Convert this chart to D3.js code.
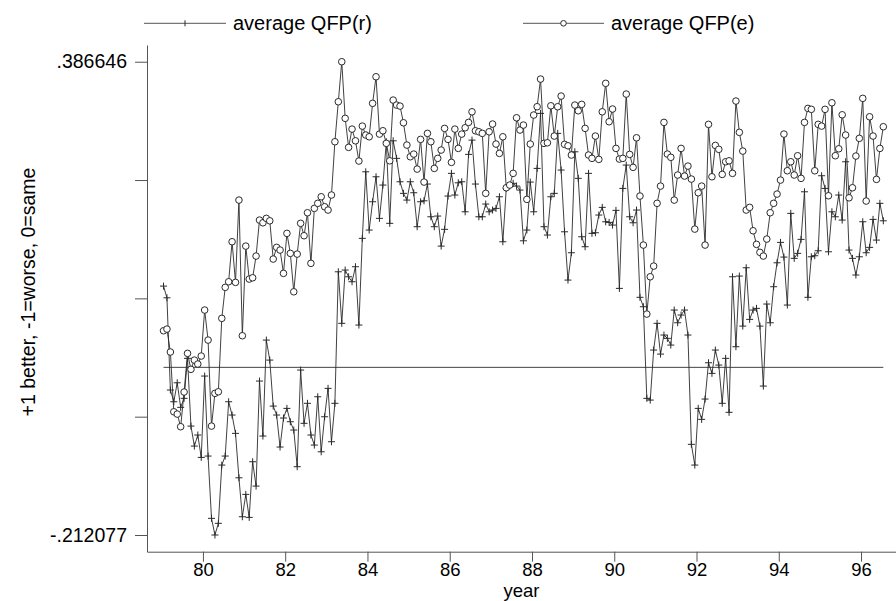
<!DOCTYPE html>
<html>
<head>
<meta charset="utf-8">
<script src="https://cdn.jsdelivr.net/npm/d3@7"></script>
<style>
  html, body { margin: 0; padding: 0; background: #fff; }
  svg { display: block; font-family: "Liberation Sans", Arial, Helvetica, sans-serif; }
</style>
</head>
<body>
<svg id="chart" width="896" height="601"></svg>
<script>
// monthly averages, first observation is Jan 1979
const firstYear = 79;

const qfpR = [
  0.1028, 0.0880, -0.0287, -0.0435, -0.0195, -0.0506, -0.0392, 0.0114, -0.0743, -0.0996,
  -0.0856, -0.1139, -0.0110, -0.1122, -0.1910, -0.212077, -0.1973, -0.1236, -0.1122, -0.0435,
  -0.0603, -0.0835, -0.1397, -0.1890, -0.1607, -0.1898, -0.1194, -0.1502, -0.0173, -0.0869,
  0.0345, 0.0092, -0.0490, -0.0603, -0.1008, -0.0641, -0.0519, -0.0688, -0.0793, -0.1257,
  -0.0034, -0.0708, -0.0455, -0.0856, -0.0983, -0.0372, -0.1068, -0.0625, -0.0266, -0.0941,
  -0.0455, 0.1209, 0.0557, 0.1231, 0.1146, 0.1083, 0.1273, 0.0535, 0.1632, 0.2474,
  0.1737, 0.2095, 0.2411, 0.1885, 0.2306, 0.2854, 0.1822, 0.2866, 0.2644, 0.2348,
  0.2201, 0.2116, 0.2348, 0.2209, 0.1779, 0.2095, 0.2107, 0.2319, 0.1905, 0.1779,
  0.1914, 0.1534, 0.1746, 0.2167, 0.2454, 0.2180, 0.2335, 0.2348, 0.1968, 0.2694,
  0.2875, 0.2319, 0.1905, 0.1905, 0.2066, 0.1968, 0.1990, 0.2011, 0.2158, 0.1589,
  0.2264, 0.2293, 0.2328, 0.2293, 0.2243, 0.1601, 0.1737, 0.2344, 0.1968, 0.2517,
  0.3213, 0.1779, 0.1674, 0.2158, 0.2201, 0.2960, 0.2496, 0.1715, 0.1104, 0.1450,
  0.2727, 0.2391, 0.1652, 0.1526, 0.2454, 0.1695, 0.1703, 0.1927, 0.2024, 0.1842,
  0.1834, 0.1800, 0.1986, 0.0999, 0.2264, 0.2559, 0.1905, 0.1829, 0.1990, 0.0886,
  0.0767, -0.0392, -0.0414, 0.0219, 0.0557, 0.0168, 0.0409, 0.0367, 0.0282, 0.0725,
  0.0564, 0.0662, 0.0725, 0.0409, -0.0974, -0.1236, -0.0519, -0.0658, -0.0401, 0.0058,
  -0.0076, 0.0219, 0.0029, -0.0455, 0.0114, -0.0569, 0.1146, 0.0261, 0.1155, 0.0522,
  0.1260, 0.0607, 0.0725, 0.0746, 0.0522, -0.0237, 0.0801, 0.0564, 0.1020, 0.1323,
  0.1581, 0.1395, 0.0788, 0.1948, 0.1379, 0.1442, 0.1619, 0.2221, 0.0886, 0.1399,
  0.1412, 0.1475, 0.2424, 0.2264, 0.1462, 0.1968, 0.1905, 0.2180, 0.1863, 0.2601,
  0.1484, 0.1379, 0.1168, 0.1399, 0.1842, 0.1450, 0.1518, 0.1872, 0.1610, 0.2075,
  0.1854
];

const qfpE = [
  0.0463, 0.0484, 0.0194, -0.0562, -0.0591, -0.0751, -0.0312, 0.0177, -0.0025, 0.0092,
  0.0042, 0.0143, 0.0725, 0.0345, -0.0743, -0.0329, -0.0309, 0.0620, 0.1012, 0.1083,
  0.1589, 0.1075, 0.2116, 0.0400, 0.1534, 0.1117, 0.1133, 0.1408, 0.1863, 0.1829,
  0.1885, 0.1854, 0.1370, 0.1518, 0.1484, 0.1189, 0.1695, 0.1442, 0.0956, 0.1433,
  0.1822, 0.1665, 0.1956, 0.1316, 0.2011, 0.2075, 0.2158, 0.2032, 0.1990, 0.2180,
  0.2854, 0.3360, 0.386646, 0.3150, 0.2783, 0.3014, 0.2866, 0.2610, 0.3052, 0.2939,
  0.2917, 0.3340, 0.3676, 0.2951, 0.2993, 0.2834, 0.2613, 0.3381, 0.3318, 0.3305,
  0.3094, 0.2812, 0.2664, 0.2698, 0.2508, 0.2884, 0.2344, 0.2960, 0.2854, 0.2517,
  0.2644, 0.2749, 0.3023, 0.2884, 0.2593, 0.3014, 0.2770, 0.2951, 0.3031, 0.3099,
  0.3233, 0.2993, 0.2980, 0.2960, 0.2201, 0.2980, 0.3078, 0.2825, 0.2707, 0.2917,
  0.2272, 0.2306, 0.2454, 0.3157, 0.3002, 0.3065, 0.2125, 0.2825, 0.3192, 0.3297,
  0.3647, 0.2834, 0.2841, 0.3309, 0.2926, 0.3297, 0.3432, 0.2821, 0.2803, 0.2686,
  0.3318, 0.3246, 0.3327, 0.3023, 0.2686, 0.2644, 0.2926, 0.2631, 0.3233, 0.3593,
  0.3107, 0.3268, 0.2770, 0.2635, 0.2644, 0.3457, 0.2694, 0.2530, 0.2904, 0.2167,
  0.1547, 0.0674, 0.1146, 0.1281, 0.2075, 0.2293, 0.3099, 0.2698, 0.2657, 0.2116,
  0.2433, 0.2770, 0.2420, 0.2546, 0.2382, 0.1749, 0.2209, 0.2293, 0.1547, 0.3074,
  0.2411, 0.2808, 0.2758, 0.2441, 0.2601, 0.2613, 0.2454, 0.3369, 0.2973, 0.2736,
  0.1990, 0.2024, 0.1728, 0.1556, 0.1455, 0.1408, 0.1623, 0.1956, 0.2075, 0.2192,
  0.2369, 0.2951, 0.2487, 0.2601, 0.2433, 0.2677, 0.2391, 0.3099, 0.3276, 0.3264,
  0.2487, 0.3074, 0.3052, 0.3264, 0.2171, 0.3347, 0.2677, 0.2765, 0.3195, 0.2939,
  0.2145, 0.2272, 0.2673, 0.2897, 0.3403, 0.2104, 0.3170, 0.2926, 0.2378, 0.2770,
  0.3044
];

const xTicks = [80, 82, 84, 86, 88, 90, 92, 94, 96];
const yTicks = [-0.212077, -0.062397, 0.087284, 0.236965, 0.386646];
const yTickLabels = ['-.212077', '', '', '', '.386646'];
const seriesNames = ['average QFP(r)', 'average QFP(e)'];

const ink = '#2a2a2a';

const svg = d3.select('#chart'),
      plotLeft = 147,
      plotRight = 896,
      plotTop = 45,
      plotBottom = 551.7;

// month mid-points as decimal years
const years = qfpR.map((d, i) => firstYear + (i + 0.5) / 12);

const x = d3.scaleLinear()
  .domain([78.64, 96.85])
  .range([plotLeft, plotRight]);

const y = d3.scaleLinear()
  .domain([-0.2332, 0.4078])
  .range([plotBottom, plotTop]);

function drawAxes() {
  const gx = svg.append('g')
    .attr('transform', `translate(0, ${plotBottom})`)
    .call(d3.axisBottom(x)
      .tickValues(xTicks)
      .tickFormat(d3.format('d'))
      .tickSize(10)
      .tickSizeOuter(0)
      .tickPadding(1));

  const gy = svg.append('g')
    .attr('transform', `translate(${plotLeft}, 0)`)
    .call(d3.axisLeft(y)
      .tickValues(yTicks)
      .tickFormat((d, i) => yTickLabels[i])
      .tickSize(12)
      .tickSizeOuter(0)
      .tickPadding(8));

  [gx, gy].forEach((g) => {
    g.selectAll('path, line').attr('stroke', '#555').attr('stroke-width', 1);
    g.selectAll('text')
      .attr('fill', '#000')
      .style('font-size', '19.5px')
      .style('font-family', '"Liberation Sans", Arial, sans-serif');
  });
  gx.selectAll('text').style('font-size', '18.5px');

  svg.append('text')
    .attr('x', (plotLeft + plotRight) / 2)
    .attr('y', 596.5)
    .attr('text-anchor', 'middle')
    .style('font-size', '18.5px')
    .text('year');

  svg.append('text')
    .attr('transform', 'translate(28, 292) rotate(-90)')
    .attr('text-anchor', 'middle')
    .attr('dy', '0.35em')
    .style('font-size', '19.5px')
    .text('+1 better, -1=worse, 0=same');
}

function drawSeries() {
  svg.append('line')
    .attr('x1', x(years[0]))
    .attr('x2', x(years[years.length - 1]))
    .attr('y1', y(0))
    .attr('y2', y(0))
    .attr('stroke', '#444')
    .attr('stroke-width', 1);

  const line = d3.line()
    .x((d, i) => x(years[i]))
    .y((d) => y(d));

  [qfpR, qfpE].forEach((values) => {
    svg.append('path')
      .datum(values)
      .attr('fill', 'none')
      .attr('stroke', ink)
      .attr('stroke-width', 0.9)
      .attr('d', line);
  });

  svg.append('g')
    .selectAll('path')
    .data(qfpR)
    .enter().append('path')
    .attr('d', 'M-3.5,0H3.5M0,-3.5V3.5')
    .attr('transform', (d, i) => `translate(${x(years[i])}, ${y(d)})`)
    .attr('stroke', ink)
    .attr('stroke-width', 1);

  svg.append('g')
    .selectAll('circle')
    .data(qfpE)
    .enter().append('circle')
    .attr('cx', (d, i) => x(years[i]))
    .attr('cy', (d) => y(d))
    .attr('r', 3.3)
    .attr('fill', '#fff')
    .attr('stroke', ink)
    .attr('stroke-width', 1);
}

function drawLegend() {
  const items = [
    { name: seriesNames[0], x0: 144, x1: 226, marker: 'plus' },
    { name: seriesNames[1], x0: 523, x1: 604, marker: 'circle' },
  ];
  const ly = 23.3;

  items.forEach((item) => {
    const g = svg.append('g');
    const mid = (item.x0 + item.x1) / 2;

    g.append('line')
      .attr('x1', item.x0)
      .attr('x2', item.x1)
      .attr('y1', ly)
      .attr('y2', ly)
      .attr('stroke', '#555')
      .attr('stroke-width', 1);

    if (item.marker === 'plus') {
      g.append('path')
        .attr('d', `M${mid},${ly - 3}V${ly + 3}`)
        .attr('stroke', ink);
    } else {
      g.append('circle')
        .attr('cx', mid)
        .attr('cy', ly)
        .attr('r', 2.8)
        .attr('fill', '#fff')
        .attr('stroke', ink);
    }

    g.append('text')
      .attr('x', item.x1 + 7)
      .attr('y', ly)
      .attr('dy', '0.35em')
      .style('font-size', '20px')
      .text(item.name);
  });
}

drawAxes();
drawSeries();
drawLegend();
</script>
</body>
</html>
